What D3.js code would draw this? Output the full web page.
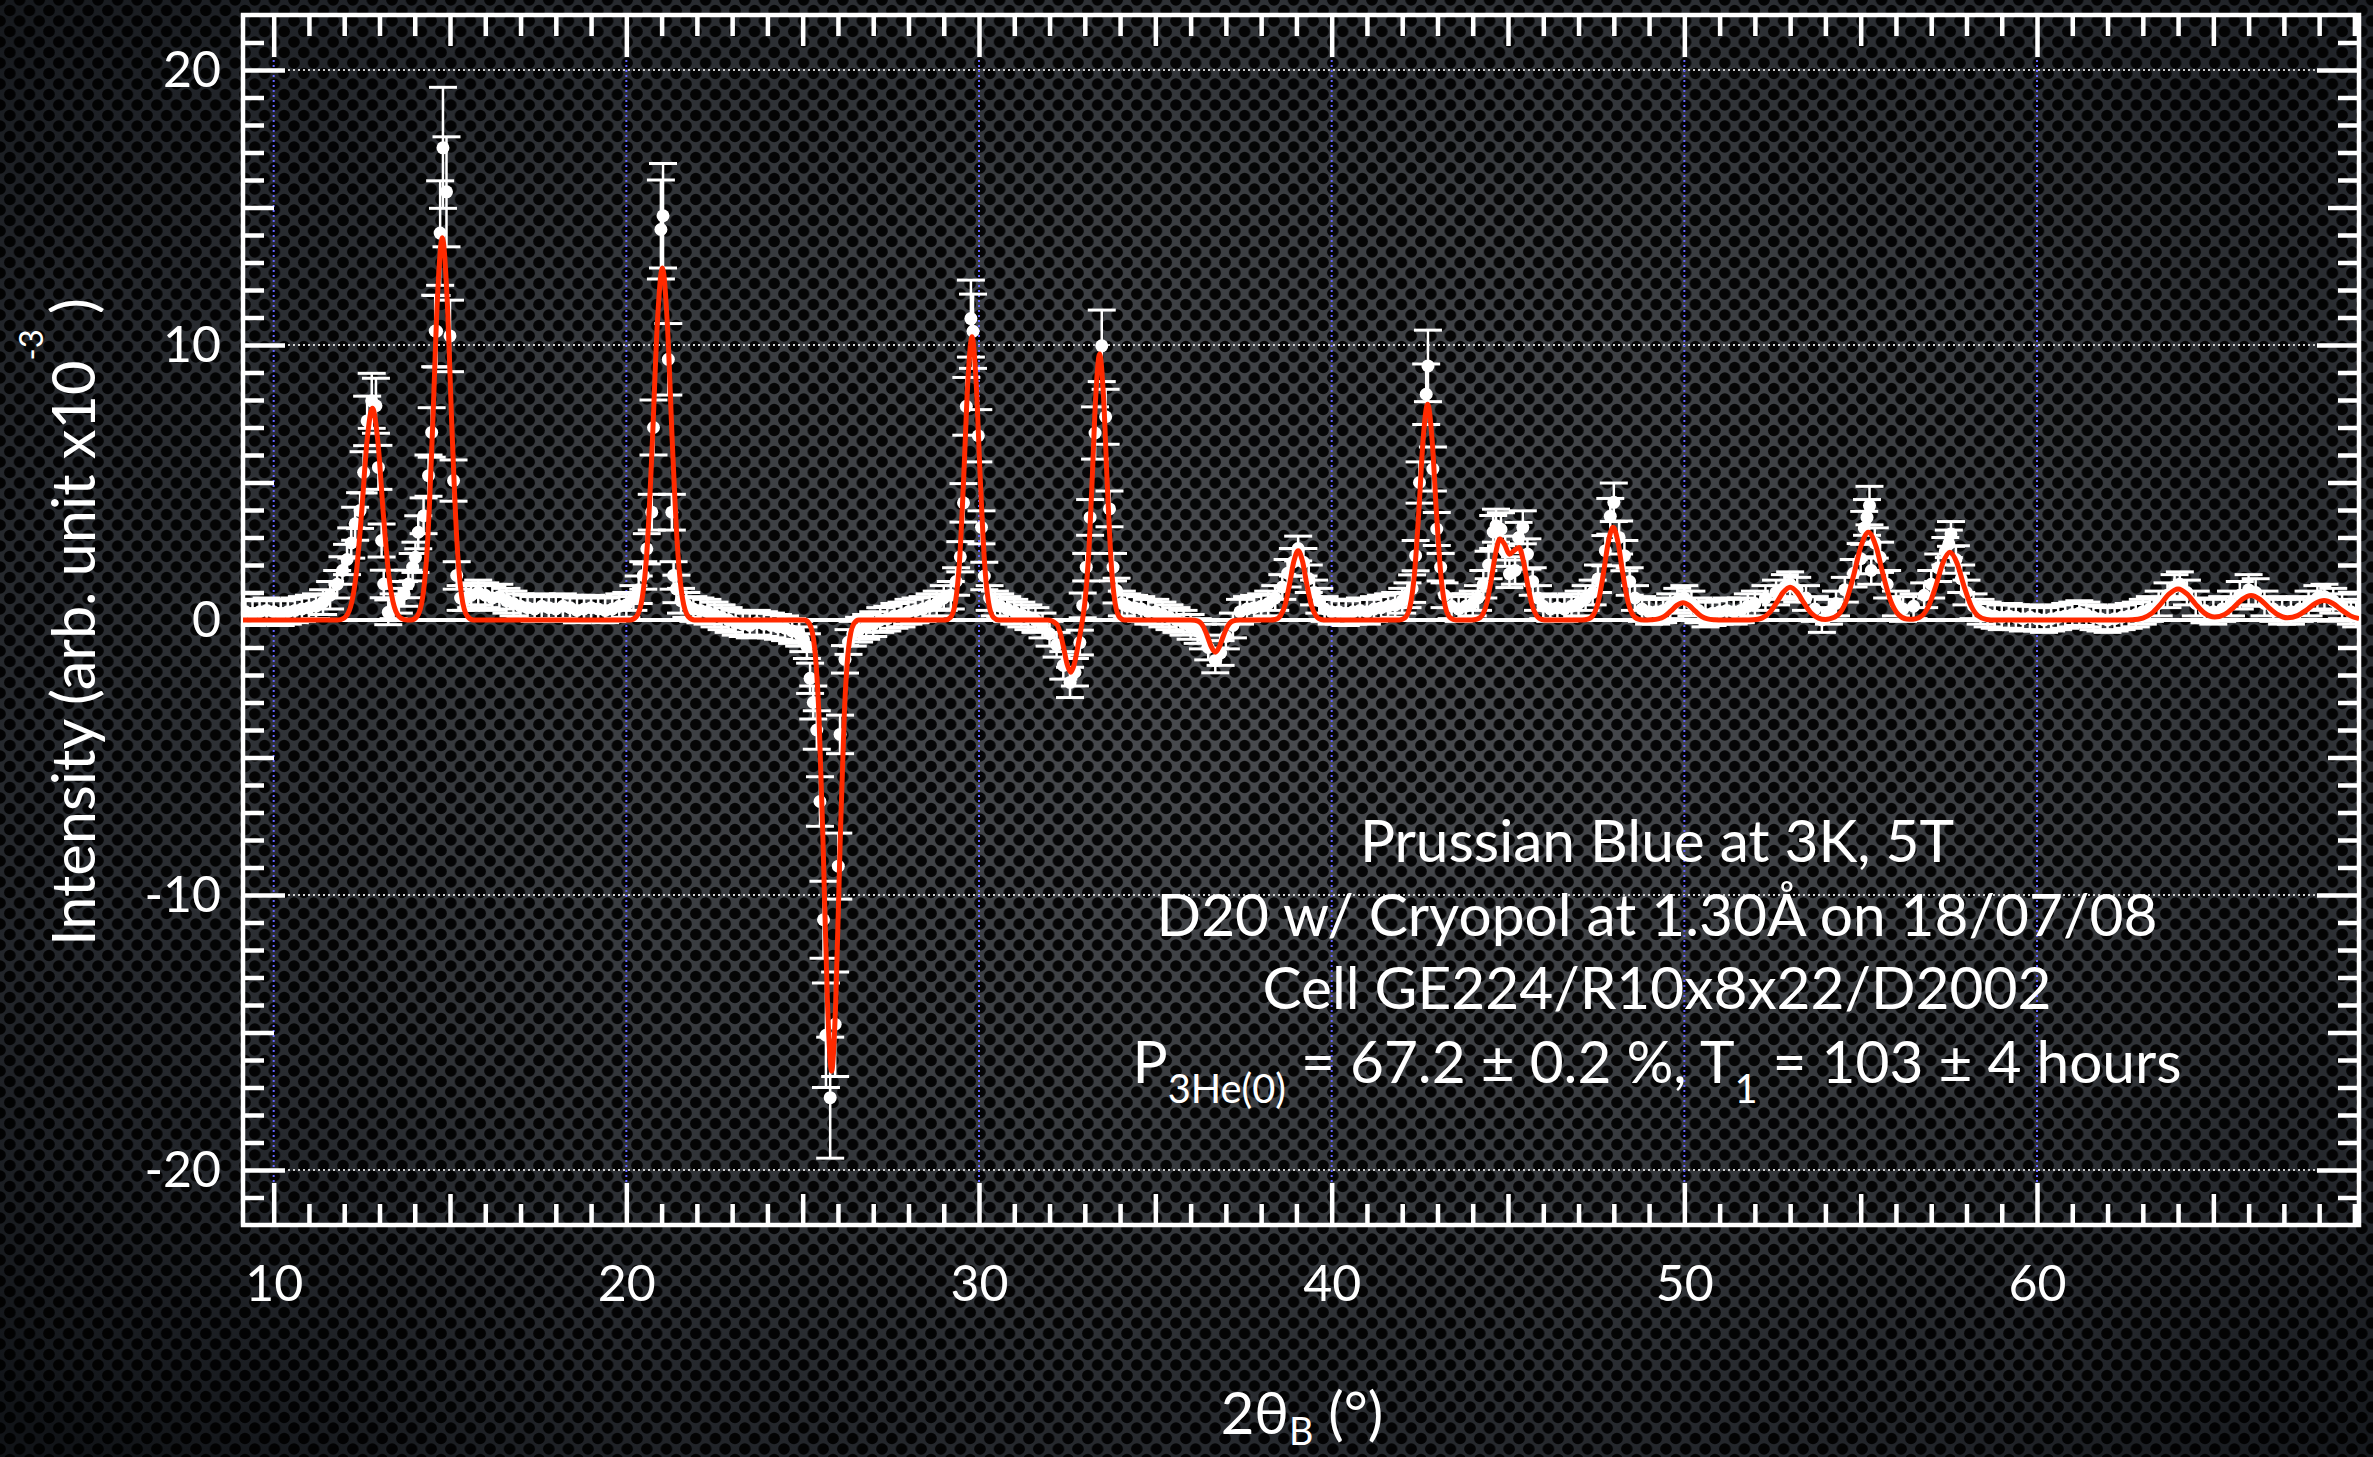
<!DOCTYPE html>
<html>
<head>
<meta charset="utf-8">
<script src="https://cdn.jsdelivr.net/npm/d3@7"></script>
<style>
html, body { margin:0; padding:0; background:#16191d; overflow:hidden; }
svg { display:block; }
text { font-family: Lato, "Noto Sans", "DejaVu Sans", sans-serif; fill:#fff; }
</style>
</head>
<body>
<svg id="chart" width="2373" height="1457"></svg>
<script>
// axes
var xDomain = [9.13, 69.13];
var yDomain = [-22, 22];
var xTickLabels = [10, 20, 30, 40, 50, 60];
var yTickLabels = [-20, -10, 0, 10, 20];

// observed points: [2theta, intensity, sigma]
var obsA = [
  [9.2,0.3,0.45],[9.4,0.25,0.45],[9.6,0.3,0.45],[9.8,0.35,0.45],[10.0,0.3,0.45],[10.2,0.25,0.45],
  [10.4,0.3,0.45],[10.6,0.35,0.45],[10.8,0.4,0.45],[11.0,0.45,0.45],[11.2,0.5,0.45],[11.4,0.65,0.45],
  [11.6,0.9,0.5],[11.8,1.3,0.5],[11.95,1.8,0.5],[12.08,2.2,0.55],[12.2,2.8,0.55],[12.31,3.5,0.6],
  [12.45,3.98,0.65],[12.55,5.37,0.75],[12.65,7.24,0.9],[12.78,7.97,1.0],[12.9,7.79,1.0],[12.97,5.55,0.8],
  [13.06,2.89,0.6],[13.12,1.31,0.5],[13.25,0.28,0.45],[13.4,0.5,0.45],[13.55,0.7,0.45],[13.7,0.95,0.45],
  [13.82,1.31,0.5],[13.94,1.92,0.5],[14.02,2.28,0.55],[14.1,3.19,0.6],[14.25,3.79,0.65],[14.39,5.25,0.75],
  [14.48,6.82,0.9],[14.58,10.51,1.3],[14.62,10.5,1.3],[14.72,14.07,1.9],[14.8,17.17,2.2],[14.9,15.57,2.0],
  [15.0,10.33,1.3],[15.1,5.07,0.75],[15.19,1.62,0.5],[15.3,0.8,0.45],[15.45,0.8,0.45],[15.6,0.9,0.45],
  [15.8,1.0,0.45],[16.0,0.9,0.45]
];
var obsB = [
  [16.2,0.8,0.45],[16.4,0.85,0.45],[16.6,0.7,0.45],[16.8,0.6,0.45],[17.0,0.5,0.45],[17.2,0.45,0.45],
  [17.4,0.4,0.45],[17.6,0.5,0.45],[17.8,0.45,0.45],[18.0,0.4,0.45],[18.2,0.5,0.45],[18.4,0.45,0.45],
  [18.6,0.35,0.45],[18.8,0.4,0.45],[19.0,0.45,0.45],[19.2,0.4,0.45],[19.4,0.35,0.45],[19.6,0.4,0.45],
  [19.8,0.5,0.45],[20.0,0.55,0.45],[20.2,0.8,0.45],[20.35,1.1,0.5],[20.48,1.62,0.5],[20.58,2.59,0.55],
  [20.72,3.92,0.65],[20.77,7.0,1.0],[20.98,14.2,1.8],[21.04,14.7,1.9],[21.19,9.48,1.3],[21.29,3.92,0.65],
  [21.34,1.62,0.5],[21.42,1.13,0.5],[21.55,0.7,0.45],[21.7,0.55,0.45],[21.9,0.4,0.45],[22.1,0.35,0.45],
  [22.3,0.3,0.45],[22.5,0.2,0.45],[22.7,0.1,0.45],[22.9,0.0,0.45],[23.1,-0.1,0.45],[23.3,-0.15,0.45],
  [23.5,-0.2,0.45],[23.7,-0.1,0.45],[23.9,-0.15,0.45],[24.1,-0.2,0.45],[24.3,-0.25,0.45],[24.5,-0.3,0.45],
  [24.7,-0.4,0.45],[24.9,-0.5,0.45],[25.02,-0.7,0.45],[25.12,-0.95,0.45],[25.21,-2.12,0.55],[25.3,-3.0,0.6],
  [25.4,-4.0,0.7],[25.49,-6.6,0.9],[25.59,-10.9,1.4],[25.66,-15.1,1.9],[25.78,-17.37,2.2],[25.92,-14.7,1.9],
  [26.01,-8.95,1.2],[26.06,-4.16,0.7],[26.2,-1.43,0.5],[26.3,-0.8,0.45],[26.42,-0.5,0.45]
];
var obsC = [
  [26.6,-0.35,0.45],[26.8,-0.25,0.45],[27.0,-0.15,0.45],[27.2,0.0,0.45],[27.4,0.05,0.45],[27.6,0.15,0.45],
  [27.8,0.2,0.45],[28.0,0.3,0.45],[28.2,0.35,0.45],[28.4,0.4,0.45],[28.6,0.5,0.45],[28.8,0.6,0.45],
  [29.0,0.8,0.45],[29.2,0.9,0.5],[29.35,1.4,0.5],[29.47,2.3,0.55],[29.56,4.26,0.7],[29.64,7.77,1.05],
  [29.77,10.96,1.4],[29.83,10.5,1.35],[29.98,6.7,0.95],[30.07,3.37,0.6],[30.15,1.6,0.5],[30.3,0.8,0.45],
  [30.45,0.6,0.45],[30.6,0.5,0.45],[30.8,0.4,0.45],[31.0,0.3,0.45],[31.2,0.2,0.45],[31.4,0.1,0.45],
  [31.6,0.0,0.45],[31.8,-0.2,0.45],[32.0,-0.5,0.45],[32.2,-0.9,0.45],[32.39,-1.65,0.5],[32.58,-2.27,0.55],
  [32.72,-1.9,0.5],[32.86,-0.82,0.45],[32.94,0.53,0.45],[33.04,1.92,0.5],[33.15,3.73,0.65],[33.29,6.8,0.95],
  [33.48,9.97,1.3],[33.59,7.39,1.0],[33.7,4.04,0.65],[33.8,1.92,0.5],[33.9,1.07,0.45],[34.05,0.6,0.45],
  [34.2,0.5,0.45],[34.4,0.45,0.45],[34.6,0.4,0.45],[34.8,0.3,0.45],[35.0,0.3,0.45],[35.2,0.2,0.45],
  [35.4,0.1,0.45],[35.6,0.0,0.45],[35.8,-0.1,0.45],[36.0,-0.25,0.45],[36.2,-0.4,0.45],[36.35,-0.6,0.45],
  [36.5,-1.0,0.45],[36.7,-1.47,0.45],[36.85,-1.2,0.45],[37.0,-0.6,0.45],[37.2,-0.2,0.45],[37.4,0.3,0.45]
];
var obsD = [
  [37.6,0.4,0.45],[37.8,0.45,0.45],[38.0,0.5,0.45],[38.2,0.6,0.45],[38.4,0.8,0.45],[38.6,1.2,0.45],
  [38.75,1.7,0.5],[38.9,2.1,0.5],[39.05,2.6,0.45],[39.2,2.1,0.5],[39.35,1.5,0.5],[39.5,1.0,0.45],
  [39.65,0.7,0.45],[39.8,0.4,0.45],[40.0,0.3,0.45],[40.2,0.3,0.45],[40.4,0.25,0.45],[40.6,0.3,0.45],
  [40.8,0.35,0.45],[41.0,0.3,0.45],[41.2,0.4,0.45],[41.4,0.45,0.45],[41.6,0.5,0.45],[41.8,0.55,0.45],
  [42.0,0.7,0.45],[42.15,0.9,0.45],[42.28,1.14,0.5],[42.38,2.34,0.55],[42.49,5.0,0.75],[42.68,8.21,1.1],
  [42.73,9.24,1.3],[42.87,5.49,0.8],[42.98,3.31,0.6],[43.09,1.92,0.5],[43.2,0.9,0.45],[43.4,0.5,0.45],
  [43.6,0.4,0.45],[43.8,0.5,0.45],[44.0,0.6,0.45],[44.15,0.8,0.45],[44.3,1.3,0.5],[44.45,2.0,0.5],
  [44.58,3.2,0.6],[44.66,3.43,0.6],[44.8,3.3,0.6],[44.92,2.5,0.55],[45.04,1.68,0.5],[45.2,1.8,0.5],
  [45.3,3.0,0.55],[45.42,3.37,0.6],[45.55,2.4,0.55],[45.7,1.4,0.5],[45.85,0.8,0.45],[46.0,0.5,0.45],
  [46.2,0.4,0.45],[46.4,0.45,0.45],[46.6,0.4,0.45],[46.8,0.5,0.45],[47.0,0.6,0.45],[47.2,0.8,0.45],
  [47.4,1.0,0.45],[47.55,1.5,0.5],[47.76,2.52,0.55],[47.9,3.77,0.65],[48.0,4.28,0.7],[48.15,3.0,0.6],
  [48.3,2.34,0.55],[48.45,1.4,0.5],[48.6,0.8,0.45],[48.8,0.4,0.45],[49.0,0.3,0.45],[49.2,0.3,0.45],
  [49.4,0.35,0.45],[49.6,0.5,0.45],[49.8,0.7,0.45],[50.0,0.8,0.45],[50.2,0.6,0.45],[50.4,0.35,0.45]
];
var obsE = [
  [50.6,0.2,0.45],[50.8,0.25,0.45],[51.0,0.3,0.45],[51.2,0.35,0.45],[51.4,0.3,0.45],[51.6,0.35,0.45],
  [51.8,0.5,0.45],[52.0,0.6,0.45],[52.3,0.8,0.45],[52.6,1.0,0.45],[52.85,1.2,0.45],[53.0,1.3,0.45],
  [53.2,1.1,0.45],[53.45,0.8,0.45],[53.7,0.4,0.45],[53.9,0.0,0.45],[54.1,0.3,0.45],[54.3,0.6,0.45],
  [54.55,1.1,0.45],[54.8,1.7,0.5],[55.0,2.23,0.55],[55.1,3.35,0.6],[55.18,3.73,0.65],[55.25,4.16,0.7],
  [55.3,1.8,0.5],[55.4,2.8,0.55],[55.55,2.28,0.55],[55.75,1.3,0.5],[56.0,0.6,0.45],[56.2,0.4,0.45],
  [56.5,0.5,0.45],[56.8,0.9,0.45],[57.0,1.3,0.5],[57.2,1.9,0.5],[57.4,2.5,0.5],[57.5,2.77,0.5],
  [57.56,3.13,0.45],[57.7,2.2,0.5],[57.85,1.5,0.5],[58.0,1.0,0.45],[58.2,0.5,0.45],[58.4,0.3,0.45],
  [58.6,0.2,0.45],[58.8,0.15,0.45],[59.0,0.1,0.45],[59.2,0.15,0.45],[59.4,0.1,0.45],[59.6,0.05,0.45],
  [59.8,0.1,0.45],[60.0,0.05,0.45],[60.2,0.0,0.45],[60.4,0.05,0.45],[60.6,0.1,0.45],[60.8,0.15,0.45],
  [61.0,0.2,0.45],[61.2,0.25,0.45],[61.4,0.2,0.45],[61.6,0.1,0.45],[61.8,0.05,0.45],[62.0,0.0,0.45],
  [62.2,0.05,0.45],[62.4,0.1,0.45],[62.6,0.15,0.45],[62.8,0.2,0.45],[63.0,0.3,0.45],[63.2,0.4,0.45],
  [63.45,0.6,0.45],[63.7,0.9,0.45],[63.9,1.2,0.45],[64.05,1.3,0.45],[64.25,1.0,0.45],[64.5,0.6,0.45],
  [64.75,0.35,0.45],[65.0,0.3,0.45],[65.25,0.4,0.45],[65.5,0.6,0.45],[65.75,0.9,0.5],[66.0,1.1,0.55],
  [66.2,1.0,0.5],[66.45,0.6,0.45],[66.7,0.4,0.45],[66.95,0.3,0.45],[67.2,0.3,0.45],[67.45,0.4,0.45],
  [67.7,0.6,0.45],[67.95,0.8,0.45],[68.15,0.85,0.45],[68.4,0.7,0.45],[68.65,0.5,0.45],[68.9,0.3,0.45],
  [69.05,0.2,0.45]
];

// fitted curve: [2theta, intensity]
var fitA = [
  [9.13,0],[11.81,0],[11.994,0.07],[12.18,0.48],[12.335,1.62],[12.49,3.85],[12.645,6.48],[12.8,7.7],
  [12.955,6.48],[13.11,3.85],[13.265,1.62],[13.42,0.48],[13.606,0.07],[13.79,0],
  [13.9,0],[14.065,0.13],[14.23,0.87],[14.368,2.92],[14.505,6.95],[14.643,11.69],[14.78,13.9],
  [14.918,11.69],[15.055,6.95],[15.193,2.92],[15.33,0.87],[15.495,0.13],[15.66,0],
  [20.11,0],[20.28,0.12],[20.45,0.8],[20.593,2.69],[20.735,6.4],[20.878,10.76],[21.02,12.8],
  [21.163,10.76],[21.305,6.4],[21.448,2.69],[21.59,0.8],[21.76,0.12],[21.93,0]
];
var fitB = [
  [25.05,0],[25.196,-0.15],[25.34,-1.03],[25.46,-3.44],[25.58,-8.2],[25.70,-13.79],[25.82,-16.4],
  [25.94,-13.79],[26.06,-8.2],[26.18,-3.44],[26.30,-1.03],[26.444,-0.15],[26.59,0],
  [29.05,0],[29.189,0.09],[29.33,0.64],[29.448,2.16],[29.565,5.15],[29.683,8.66],[29.8,10.3],
  [29.918,8.66],[30.035,5.15],[30.153,2.16],[30.27,0.64],[30.411,0.09],[30.55,0],
  [31.95,0],[32.2,-0.15],[32.3,-0.46],[32.4,-1.01],[32.5,-1.62],[32.6,-1.9],[32.7,-1.61],[32.8,-0.97],
  [32.9,-0.26],[33.0,0.62],[33.1,2.19],[33.2,4.84],[33.31,8.13],[33.42,9.67],[33.53,8.13],[33.64,4.84],
  [33.75,2.03],[33.86,0.6],[33.99,0.09],[34.12,0],
  [36.0,0],[36.115,-0.01],[36.25,-0.07],[36.363,-0.25],[36.475,-0.59],[36.588,-0.98],[36.7,-1.17],
  [36.813,-0.98],[36.925,-0.59],[37.038,-0.25],[37.15,-0.07],[37.285,-0.01],[37.4,0]
];
var fitC = [
  [38.25,0],[38.4,0.02],[38.55,0.16],[38.675,0.53],[38.8,1.26],[38.925,2.12],[39.05,2.52],[39.175,2.12],
  [39.3,1.26],[39.425,0.53],[39.55,0.16],[39.7,0.02],[39.85,0],
  [41.92,0],[42.07,0.07],[42.22,0.49],[42.345,1.65],[42.47,3.93],[42.595,6.6],[42.72,7.85],[42.845,6.6],
  [42.97,3.93],[43.095,1.65],[43.22,0.49],[43.37,0.07],[43.52,0],
  [43.97,0],[44.12,0.03],[44.27,0.18],[44.395,0.6],[44.52,1.43],[44.645,2.4],[44.77,2.95],[44.905,2.74],
  [45.04,2.39],[45.175,2.53],[45.31,2.64],[45.435,2.15],[45.56,1.27],[45.685,0.53],[45.81,0.16],
  [45.96,0.02],[46.11,0],
  [47.1,0],[47.265,0.03],[47.43,0.21],[47.568,0.71],[47.705,1.69],[47.843,2.83],[47.98,3.37],
  [48.118,2.83],[48.255,1.69],[48.393,0.71],[48.53,0.21],[48.695,0.03],
  [48.85,0],[49.05,0.01],[49.26,0.04],[49.435,0.13],[49.61,0.32],[49.785,0.53],[49.96,0.63],
  [50.135,0.53],[50.31,0.32],[50.485,0.13],[50.66,0.04],[50.87,0.01],[51.08,0]
];
var fitD = [
  [51.72,0],[51.96,0.01],[52.2,0.07],[52.4,0.25],[52.6,0.6],[52.8,1.0],[53.0,1.19],[53.2,1.0],
  [53.4,0.6],[53.6,0.25],[53.8,0.07],[54.0,0.02],[54.115,0.04],[54.37,0.2],[54.583,0.67],[54.795,1.6],
  [55.008,2.68],[55.22,3.19],[55.433,2.68],[55.645,1.6],[55.858,0.67],[56.07,0.2],[56.3,0.04],
  [56.49,0.03],[56.73,0.15],[56.93,0.52],[57.13,1.23],[57.33,2.07],[57.53,2.46],[57.73,2.07],
  [57.93,1.23],[58.13,0.52],[58.33,0.15],[58.57,0.02],[58.81,0],
  [62.4,0],[62.7,0.01],[63.0,0.07],[63.25,0.24],[63.5,0.57],[63.75,0.95],[64.0,1.13],[64.25,0.95],
  [64.5,0.57],[64.75,0.25],[65.04,0.11],[65.32,0.2],[65.57,0.45],[65.82,0.75],[66.07,0.89],
  [66.32,0.75],[66.57,0.45],[66.82,0.2],[67.1,0.08],[67.39,0.16],[67.64,0.36],[67.89,0.6],
  [68.14,0.71],[68.39,0.6],[68.64,0.36],[68.89,0.15],[69.13,0.05]
];

// annotation block
var annotation = [
  [{t: "Prussian Blue at 3K, 5T"}],
  [{t: "D20 w/ Cryopol at 1.30Å on 18/07/08"}],
  [{t: "Cell GE224/R10x8x22/D2002"}],
  [{t: "P"}, {t: "3He(0)", sub: true}, {t: " = 67.2 ± 0.2 %, T"}, {t: "1", sub: true}, {t: " = 103 ± 4 hours"}]
];

var W = 2373, H = 1457;
var frame = {left: 243, right: 2359, top: 15, bottom: 1225};
var svg = d3.select("#chart");
var defs = svg.append("defs");

// fond métal perforé
var grad = defs.append("radialGradient").attr("id", "bgGrad")
  .attr("cx", "55%").attr("cy", "45%").attr("r", "75%");
[[0, "#4c4e52"], [0.45, "#393c40"], [0.8, "#212429"], [1, "#111418"]].forEach(function(s){
  grad.append("stop").attr("offset", s[0]).attr("stop-color", s[1]);
});
var pat = defs.append("pattern").attr("id", "holes")
  .attr("patternUnits", "userSpaceOnUse").attr("width", 19.6).attr("height", 21);
[[0,0],[19.6,0],[0,21],[19.6,21],[9.8,10.5]].forEach(function(c){
  pat.append("circle").attr("cx", c[0]).attr("cy", c[1]).attr("r", 5.8)
    .attr("fill", "#000").attr("fill-opacity", 0.92);
});
svg.append("rect").attr("width", W).attr("height", H).attr("fill", "url(#bgGrad)");
svg.append("rect").attr("width", W).attr("height", H).attr("fill", "url(#holes)");

defs.append("clipPath").attr("id", "plotClip").append("rect")
  .attr("x", frame.left).attr("y", frame.top)
  .attr("width", frame.right - frame.left).attr("height", frame.bottom - frame.top);

var x = d3.scaleLinear().domain(xDomain).range([frame.left, frame.right]);
var y = d3.scaleLinear().domain(yDomain).range([frame.bottom, frame.top]);

// grilles
var grid = svg.append("g").attr("clip-path", "url(#plotClip)");
grid.selectAll("line.hg").data(yTickLabels.filter(function(d){ return d != 0; }))
  .join("line").attr("class", "hg")
  .attr("x1", frame.left).attr("x2", frame.right)
  .attr("y1", function(d){ return y(d); }).attr("y2", function(d){ return y(d); })
  .attr("stroke", "#d0d0d0").attr("stroke-width", 2).attr("stroke-dasharray", "2,3");
grid.selectAll("line.vg").data(xTickLabels)
  .join("line").attr("class", "vg")
  .attr("x1", function(d){ return x(d); }).attr("x2", function(d){ return x(d); })
  .attr("y1", frame.top).attr("y2", frame.bottom)
  .attr("stroke", "#6464ff").attr("stroke-width", 2).attr("stroke-dasharray", "2,3");
grid.append("line")
  .attr("x1", frame.left).attr("x2", frame.right)
  .attr("y1", y(0)).attr("y2", y(0))
  .attr("stroke", "#fff").attr("stroke-width", 4);

// cadre et graduations
svg.append("rect")
  .attr("x", frame.left).attr("y", frame.top)
  .attr("width", frame.right - frame.left).attr("height", frame.bottom - frame.top)
  .attr("fill", "none").attr("stroke", "#fff").attr("stroke-width", 4.5);

var xAll = d3.range(10, 70), yAll = d3.range(-21, 22);
var xMed = xAll.filter(function(d){ return d % 10 != 0 && d % 5 == 0; });
var xMin = xAll.filter(function(d){ return d % 5 != 0; });
var yMed = yAll.filter(function(d){ return d % 10 != 0 && d % 5 == 0; });
var yMin = yAll.filter(function(d){ return d % 5 != 0; });
var tickLen = {major: 42, medium: 31, minor: 21};

function ticks(gen, values, len, tr, labelled, pad){
  var g = svg.append("g").attr("transform", tr).attr("color", "#fff")
    .call(gen.tickValues(values).tickSize(-len).tickPadding(pad || 0)
      .tickFormat(labelled ? function(d){ return String(d); } : ""));
  g.select(".domain").remove();
  g.selectAll(".tick line").attr("stroke-width", 4.5);
  g.selectAll("text").attr("font-family", "Lato, 'Noto Sans', sans-serif")
    .attr("font-size", 50).attr("fill", "#fff");
  return g;
}
ticks(d3.axisLeft(y), yTickLabels, tickLen.major, `translate(${frame.left},0)`, true, 22);
ticks(d3.axisLeft(y), yMed, tickLen.medium, `translate(${frame.left},0)`);
ticks(d3.axisLeft(y), yMin, tickLen.minor, `translate(${frame.left},0)`);
ticks(d3.axisRight(y), yTickLabels, tickLen.major, `translate(${frame.right},0)`);
ticks(d3.axisRight(y), yMed, tickLen.medium, `translate(${frame.right},0)`);
ticks(d3.axisRight(y), yMin, tickLen.minor, `translate(${frame.right},0)`);
ticks(d3.axisBottom(x), xTickLabels, tickLen.major, `translate(0,${frame.bottom})`, true, 40);
ticks(d3.axisBottom(x), xMed, tickLen.medium, `translate(0,${frame.bottom})`);
ticks(d3.axisBottom(x), xMin, tickLen.minor, `translate(0,${frame.bottom})`);
ticks(d3.axisTop(x), xTickLabels, tickLen.major, `translate(0,${frame.top})`);
ticks(d3.axisTop(x), xMed, tickLen.medium, `translate(0,${frame.top})`);
ticks(d3.axisTop(x), xMin, tickLen.minor, `translate(0,${frame.top})`);

// points mesurés avec barres d'erreur
var obs = [].concat(obsA, obsB, obsC, obsD, obsE);
var dataG = svg.append("g").attr("clip-path", "url(#plotClip)");
var capW = 14;
dataG.selectAll("line.err").data(obs).join("line").attr("class", "err")
  .attr("x1", function(d){ return x(d[0]); }).attr("x2", function(d){ return x(d[0]); })
  .attr("y1", function(d){ return y(d[1] - d[2]); }).attr("y2", function(d){ return y(d[1] + d[2]); })
  .attr("stroke", "#fff").attr("stroke-width", 2.5);
dataG.selectAll("line.capHi").data(obs).join("line").attr("class", "capHi")
  .attr("x1", function(d){ return x(d[0]) - capW; }).attr("x2", function(d){ return x(d[0]) + capW; })
  .attr("y1", function(d){ return y(d[1] + d[2]); }).attr("y2", function(d){ return y(d[1] + d[2]); })
  .attr("stroke", "#fff").attr("stroke-width", 3);
dataG.selectAll("line.capLo").data(obs).join("line").attr("class", "capLo")
  .attr("x1", function(d){ return x(d[0]) - capW; }).attr("x2", function(d){ return x(d[0]) + capW; })
  .attr("y1", function(d){ return y(d[1] - d[2]); }).attr("y2", function(d){ return y(d[1] - d[2]); })
  .attr("stroke", "#fff").attr("stroke-width", 3);
dataG.selectAll("circle").data(obs).join("circle")
  .attr("cx", function(d){ return x(d[0]); }).attr("cy", function(d){ return y(d[1]); })
  .attr("r", 6.5).attr("fill", "#fff");

// courbe ajustée (au-dessus des graduations)
var fit = [].concat(fitA, fitB, fitC, fitD);
var line = d3.line()
  .x(function(d){ return x(d[0]); })
  .y(function(d){ return y(d[1]); })
  .curve(d3.curveMonotoneX);
dataG.append("path").datum(fit).attr("d", line)
  .attr("fill", "none").attr("stroke", "#ff2a00").attr("stroke-width", 5)
  .attr("stroke-linejoin", "round");

// ajuste la taille de police pour une largeur donnée
function fitWidth(sel, target){
  var w = sel.node().getBBox().width;
  var fs = parseFloat(sel.attr("font-size"));
  return fs * target / w;
}

// titre axe y
var yLab = svg.append("text")
  .attr("transform", "translate(95,622) rotate(-90)")
  .attr("text-anchor", "middle").attr("font-size", 54);
yLab.append("tspan").text("Intensity (arb. unit x10");
yLab.append("tspan").attr("font-size", "0.55em").attr("dy", "-1.6em").text("-3");
yLab.append("tspan").attr("dy", "0.88em").text(" )");
yLab.attr("font-size", fitWidth(yLab, 648));

// titre axe x
var xLab = svg.append("text")
  .attr("x", 1302).attr("y", 1434)
  .attr("text-anchor", "middle").attr("font-size", 58);
xLab.append("tspan").text("2θ");
xLab.append("tspan").attr("font-size", "0.65em").attr("dy", "0.3em").text("B");
xLab.append("tspan").attr("dy", "-0.195em").text(" (°)");

// texte d'annotation
var annoBase = [862, 936, 1009, 1083];
var annoWidth = [593, 999, 772, 1077];
var annoCx = 1657;
var annoNodes = annotation.map(function(parts, i){
  var t = svg.append("text").attr("x", annoCx).attr("y", annoBase[i])
    .attr("text-anchor", "middle").attr("font-size", 52);
  parts.forEach(function(p, j){
    var ts = t.append("tspan").text(p.t);
    if (p.sub) ts.attr("font-size", "0.68em").attr("dy", "0.5em");
    else if (j > 0 && parts[j-1].sub) ts.attr("dy", "-0.34em");
  });
  return t;
});
var sizes = annoNodes.map(function(t, i){ return fitWidth(t, annoWidth[i]); });
var fsAnno = d3.mean(sizes);
annoNodes.forEach(function(t){ t.attr("font-size", fsAnno); });
</script>
</body>
</html>
